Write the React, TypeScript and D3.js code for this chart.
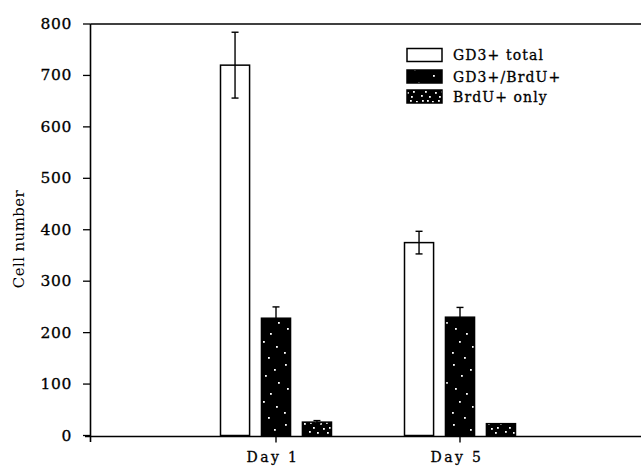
import React from "react";
import * as d3 from "d3";

const categories = ["Day 1", "Day 5"];
const seriesNames = ["GD3+ total", "GD3+/BrdU+", "BrdU+ only"];
const gd3Total = [720, 375];
const gd3TotalErr = [64, 22];
const gd3Brdu = [228, 230];
const gd3BrduErr = [22, 19];
const brduOnly = [26, 23];
const brduOnlyErr = [3, 0];
const yTicks = [0, 100, 200, 300, 400, 500, 600, 700, 800];

const values = [gd3Total, gd3Brdu, brduOnly];
const errors = [gd3TotalErr, gd3BrduErr, brduOnlyErr];
const fills = ["#fff", "url(#dotsA)", "url(#dotsB)"];

const W = 641;
const H = 466;

export default function App() {
  const y = d3.scaleLinear().domain([0, 800]).range([435.5, 24]);
  const x = d3
    .scalePoint<string>()
    .domain(["_a", ...categories, "_b"])
    .range([92, 644]);
  const inner = d3
    .scaleBand<string>()
    .domain(seriesNames)
    .range([-55.5, 55.5])
    .paddingInner(0.29)
    .paddingOuter(0);
  const bw = inner.bandwidth();
  const axisX = 90.5;
  const baseY = y(0);

  const serif = "'DejaVu Serif', 'Liberation Serif', serif";

  const dotsA: [number, number][] = [
    [3, 4], [20, 9], [11, 15], [24, 22], [5, 28], [16, 33], [9, 41], [22, 46], [2, 52], [14, 57],
  ];
  const dotsB: [number, number][] = [
    [2, 2], [7, 2], [12, 3], [18, 2], [24, 3], [5, 7], [15, 8], [21, 7], [1, 11], [9, 12], [19, 12],
  ];

  return (
    <svg width={W} height={H} style={{ position: "absolute", left: 0, top: 0, background: "#fff" }}>
      <defs>
        <pattern id="dotsA" width="28" height="60" patternUnits="userSpaceOnUse" x="2" y="0">
          <rect width="28" height="60" fill="#000" />
          {dotsA.map(([a, b], i) => (
            <rect key={i} x={a} y={b} width="1.8" height="1.8" fill="#fff" />
          ))}
        </pattern>
        <pattern id="dotsB" width="28" height="14" patternUnits="userSpaceOnUse">
          <rect width="28" height="14" fill="#000" />
          {dotsB.map(([a, b], i) => (
            <rect key={i} x={a} y={b} width="1.8" height="1.8" fill="#fff" />
          ))}
        </pattern>
      </defs>

      {/* frame lines */}
      <line x1={axisX} x2={641} y1={24} y2={24} stroke="#000" strokeWidth={1.5} />
      <line x1={axisX} x2={axisX} y1={24} y2={442} stroke="#000" strokeWidth={1.6} />
      <line x1={85} x2={641} y1={baseY + 1} y2={baseY + 1} stroke="#000" strokeWidth={1.6} />

      {/* y ticks */}
      {yTicks.map((t) => (
        <g key={t}>
          <line x1={83} x2={axisX} y1={y(t)} y2={y(t)} stroke="#000" strokeWidth={1.3} />
          <text
            x={72}
            y={y(t)}
            textAnchor="end"
            dominantBaseline="central"
            fontFamily={serif}
            fontSize={15.5}
            letterSpacing={0.6}
            stroke="#000"
            strokeWidth={0.3}
            fill="#000"
          >
            {t}
          </text>
        </g>
      ))}

      <text
        transform={`translate(19,239) rotate(-90)`}
        textAnchor="middle"
        dominantBaseline="central"
        fontFamily={serif}
        fontSize={15}
        letterSpacing={0.4}
        fill="#000"
      >
        Cell number
      </text>

      {/* bars */}
      {categories.map((c, ci) => (
        <g key={c}>
          {seriesNames.map((s, si) => {
            const x0 = (x(c) as number) + (inner(s) as number);
            const v = values[si][ci];
            const e = errors[si][ci];
            const cx = x0 + bw / 2;
            return (
              <g key={s}>
                <rect
                  x={x0}
                  y={y(v)}
                  width={bw}
                  height={baseY - y(v)}
                  fill={fills[si]}
                  stroke="#000"
                  strokeWidth={1.5}
                />
                {e > 0 && (
                  <g stroke="#000" strokeWidth={1.4}>
                    <line x1={cx} x2={cx} y1={y(v + e)} y2={y(v - e)} />
                    <line x1={cx - 3.5} x2={cx + 3.5} y1={y(v + e)} y2={y(v + e)} />
                    <line x1={cx - 3.5} x2={cx + 3.5} y1={y(v - e)} y2={y(v - e)} />
                  </g>
                )}
              </g>
            );
          })}
          <line
            x1={x(c) as number}
            x2={x(c) as number}
            y1={baseY}
            y2={baseY + 7}
            stroke="#000"
            strokeWidth={1.4}
          />
          <text
            x={(x(c) as number) - 3}
            y={462}
            textAnchor="middle"
            fontFamily={serif}
            fontSize={14}
            letterSpacing={2.4}
            stroke="#000"
            strokeWidth={0.3}
            fill="#000"
          >
            {c}
          </text>
        </g>
      ))}

      {/* legend */}
      {seriesNames.map((s, si) => {
        const cy = [55, 76.5, 96.5][si];
        return (
          <g key={s}>
            <rect
              x={407}
              y={cy - 6.5}
              width={35}
              height={13}
              fill={fills[si]}
              stroke="#000"
              strokeWidth={1.5}
            />
            <text
              x={453}
              y={cy}
              dominantBaseline="central"
              fontFamily={serif}
              fontSize={14}
              letterSpacing={1.1}
              stroke="#000"
              strokeWidth={0.3}
              fill="#000"
            >
              {s}
            </text>
          </g>
        );
      })}
    </svg>
  );
}
